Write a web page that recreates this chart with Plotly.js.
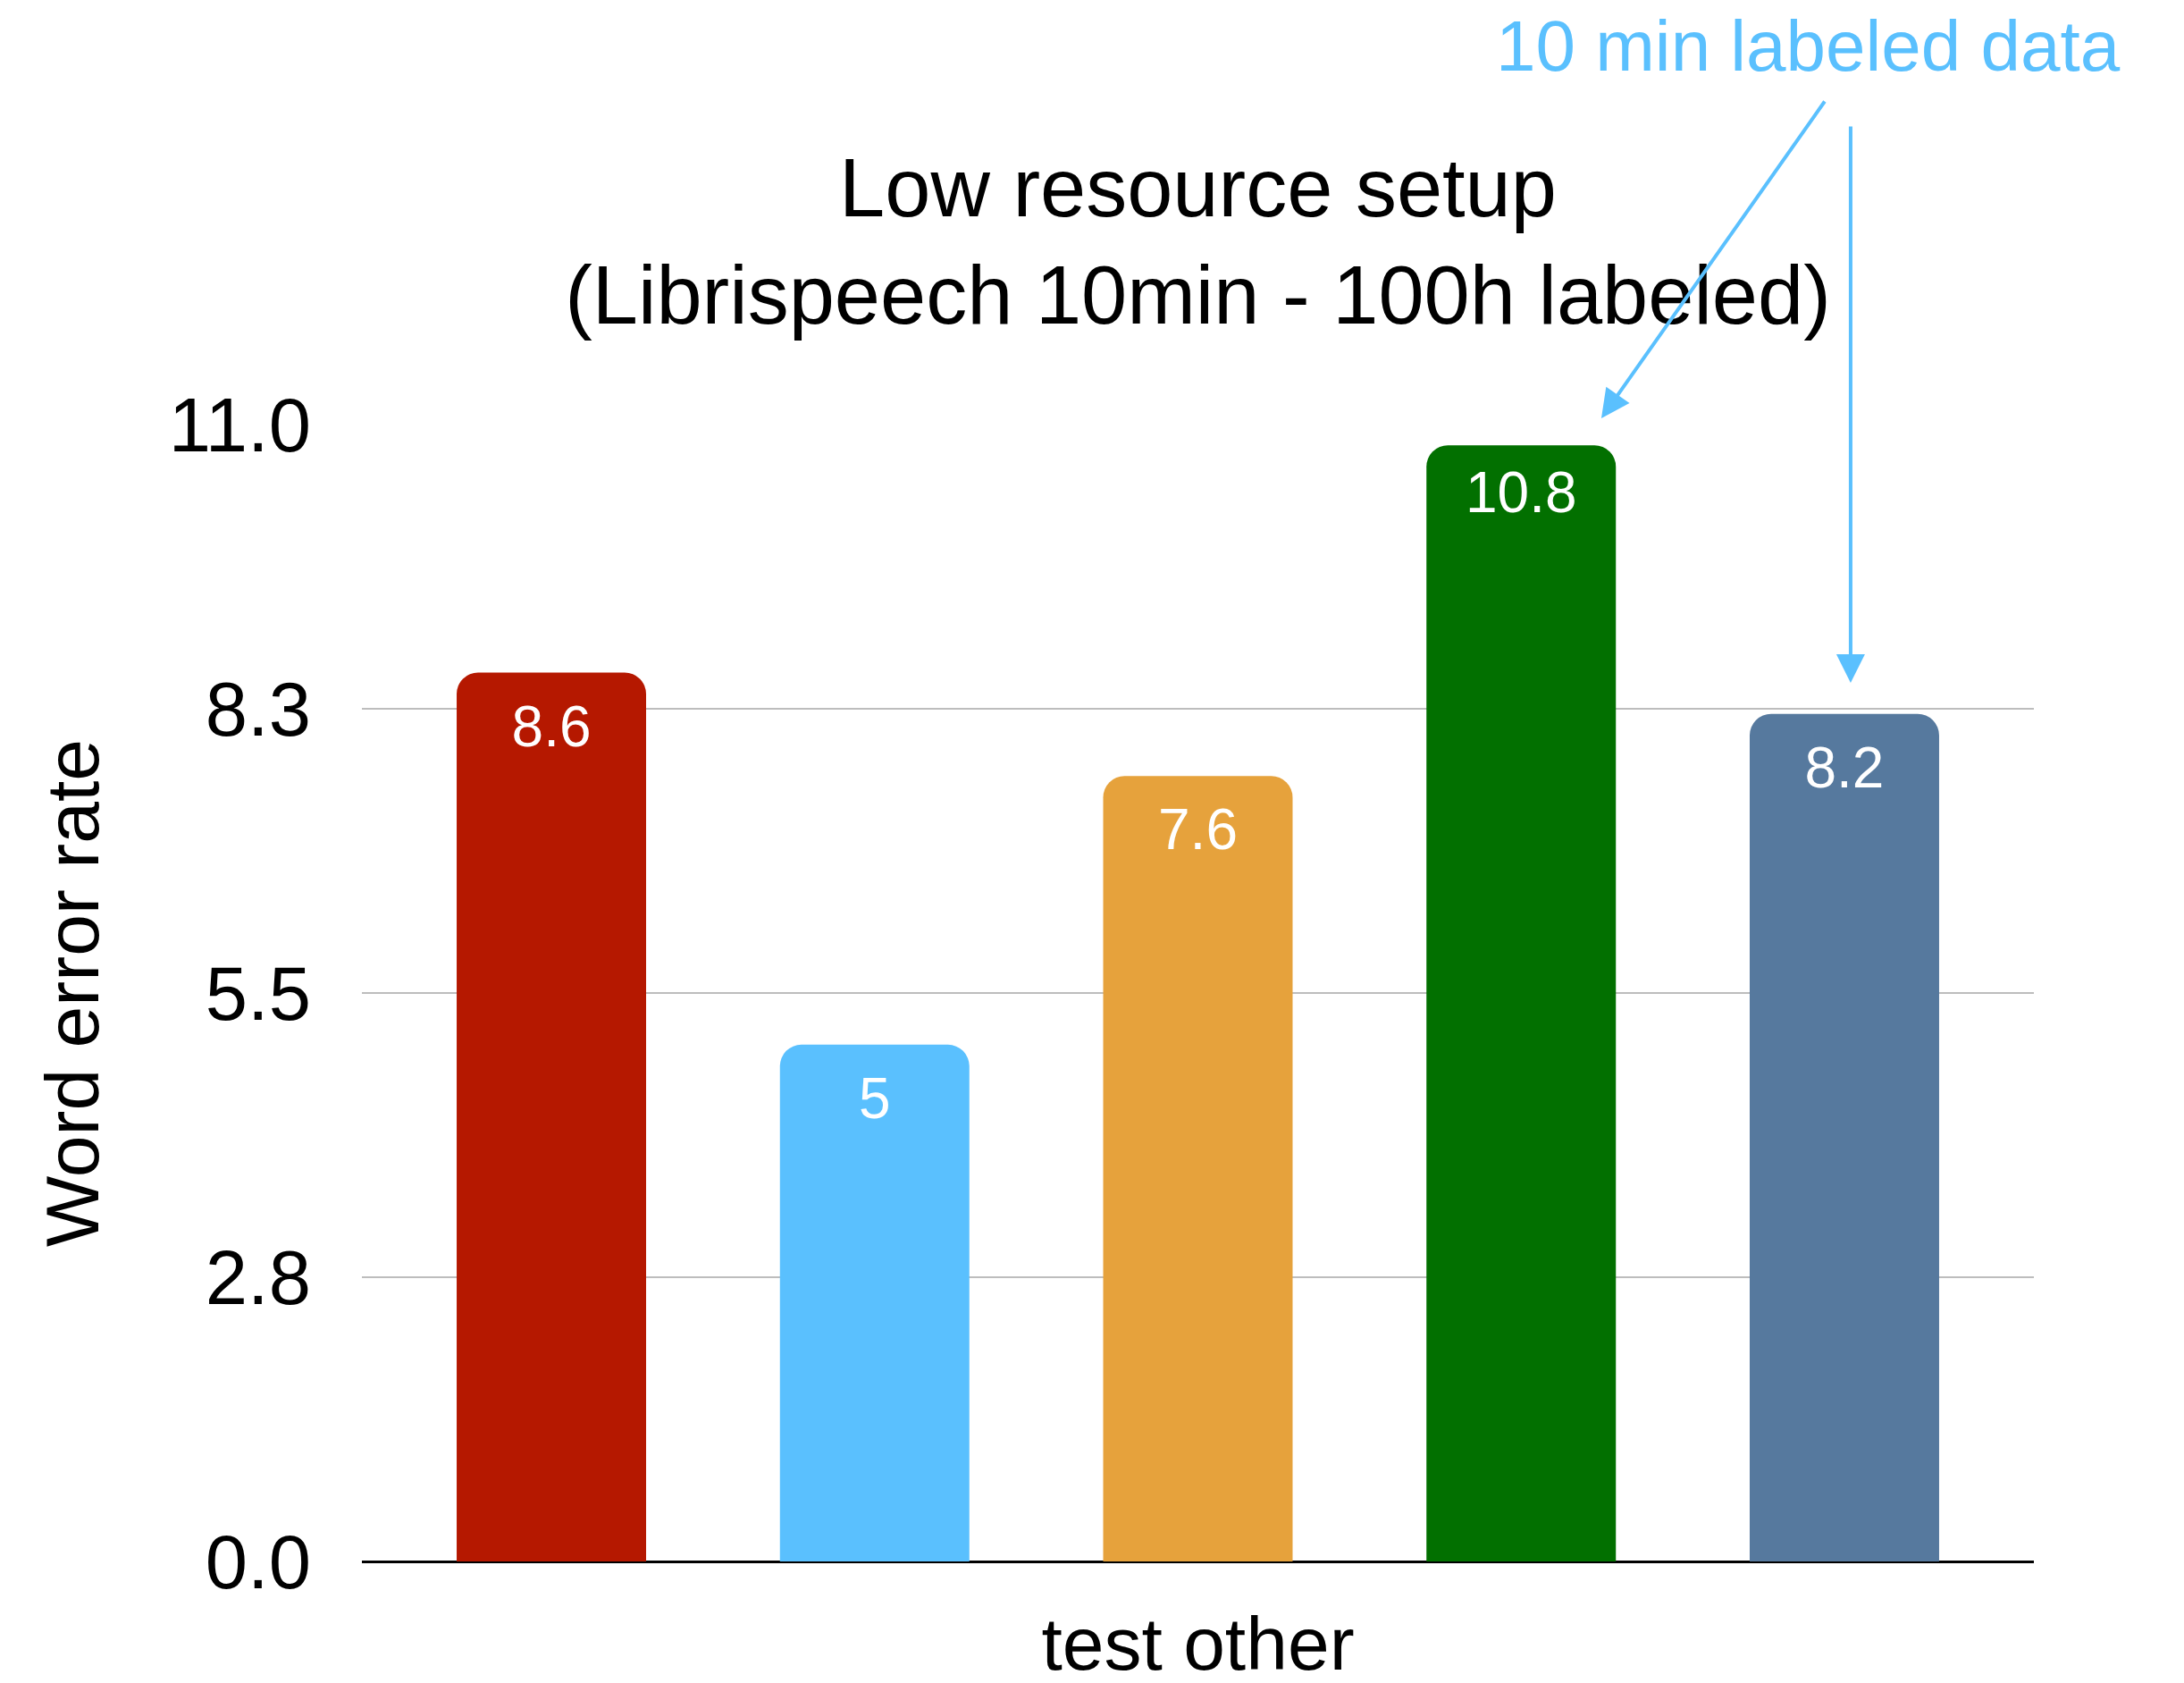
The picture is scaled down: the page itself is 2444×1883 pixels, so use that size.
<!DOCTYPE html>
<html><head><meta charset="utf-8">
<script src="https://cdn.plot.ly/plotly-3.0.1.min.js"></script>
<style>html,body{margin:0;padding:0;background:#fff;}</style>
</head><body>
<div id="chart" style="width:2444px;height:1883px;"></div>
<script>
const category = ["test other"];
const seriesNames = ["Series 1", "Series 2", "Series 3", "Series 4", "Series 5"];
const seriesValues = [8.6, 5.0, 7.6, 10.8, 8.2];
const seriesLabels = ["8.6", "5", "7.6", "10.8", "8.2"];
const seriesColors = ["#B51800", "#5AC0FE", "#E6A23C", "#027000", "#56799E"];
const yTickVals = [0, 2.75, 5.5, 8.25, 11];
const yTickText = ["0.0", "2.8", "5.5", "8.3", "11.0"];
const titleText = "Low resource setup<br>(Librispeech 10min - 100h labeled)";
const yTitle = "Word error rate";
const noteText = "10 min labeled data";

const FONT = "Liberation Sans, Arial, Helvetica, sans-serif";
const BLUE = "#5AC0FE";

const traces = seriesValues.map((v, i) => ({
  type: "bar",
  name: seriesNames[i],
  x: category,
  y: [v],
  text: [seriesLabels[i]],
  textposition: "inside",
  insidetextanchor: "end",
  textangle: 0,
  textfont: {family: FONT, size: 64, color: "#ffffff"},
  marker: {color: seriesColors[i], cornerradius: 24, line: {width: 0}},
  hoverinfo: "name+y"
}));

const layout = {
  width: 2444,
  height: 1883,
  paper_bgcolor: "#ffffff",
  plot_bgcolor: "#ffffff",
  showlegend: false,
  barmode: "group",
  bargap: 0.0333,
  bargroupgap: 0.414,
  margin: {l: 405, r: 168, t: 475, b: 136, pad: 0},
  font: {family: FONT, color: "#000000"},
  title: {
    text: titleText,
    font: {family: FONT, size: 92, color: "#000000"},
    x: 0.5, xref: "paper", xanchor: "center",
    y: 1 - 242 / 1883, yref: "container", yanchor: "middle"
  },
  xaxis: {
    type: "category",
    showgrid: false,
    showline: false,
    zeroline: false,
    ticks: "",
    ticklabelstandoff: 36,
    tickfont: {family: FONT, size: 84, color: "#000000"}
  },
  yaxis: {
    range: [0, 11],
    tickvals: yTickVals,
    ticktext: yTickText,
    ticks: "",
    ticklabelstandoff: 56,
    tickfont: {family: FONT, size: 85, color: "#000000"},
    showgrid: true,
    gridcolor: "#BDBDBD",
    gridwidth: 2,
    zeroline: true,
    zerolinecolor: "#000000",
    zerolinewidth: 3,
    showline: false,
    title: {text: yTitle, font: {family: FONT, size: 84, color: "#000000"}, standoff: 50}
  },
  annotations: [
    {
      text: noteText, xref: "paper", yref: "paper",
      x: 0.8653, y: 1.3333, xanchor: "center", yanchor: "middle",
      showarrow: false,
      font: {family: FONT, size: 80, color: BLUE}
    },
    {
      text: "", xref: "paper", yref: "paper",
      x: 0.7413, y: 1.0055, ax: 251, ay: -356,
      showarrow: true, arrowhead: 2, arrowwidth: 4, arrowsize: 1.6,
      arrowcolor: BLUE, standoff: 0, startstandoff: 0,
      font: {size: 1}
    },
    {
      text: "", xref: "paper", yref: "paper",
      x: 0.8904, y: 0.7728, ax: 0, ay: -624,
      showarrow: true, arrowhead: 2, arrowwidth: 4, arrowsize: 1.6,
      arrowcolor: BLUE, standoff: 0, startstandoff: 0,
      font: {size: 1}
    }
  ]
};

Plotly.newPlot("chart", traces, layout, {displayModeBar: false, staticPlot: true});
</script>
</body></html>
